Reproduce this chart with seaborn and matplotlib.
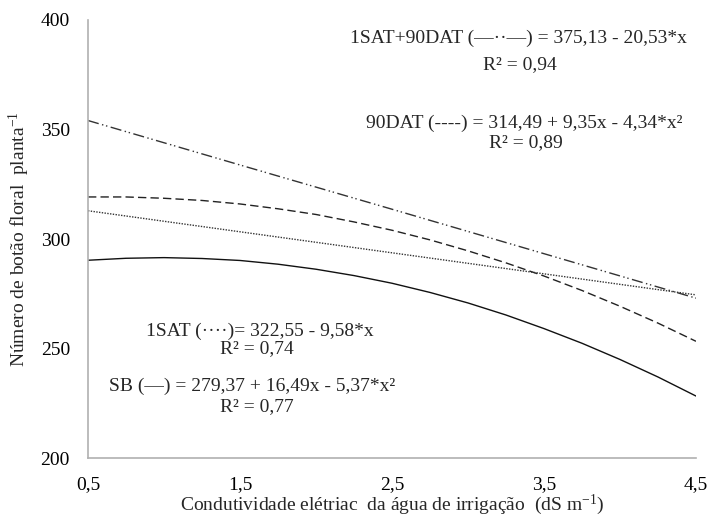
import matplotlib
matplotlib.use('Agg')
import matplotlib.pyplot as plt
import seaborn as sns
import pandas as pd

# curves
x_curve = [0.5, 0.75, 1.0, 1.25, 1.5, 1.75, 2.0, 2.25, 2.5, 2.75, 3.0, 3.25, 3.5, 3.75, 4.0, 4.25, 4.5]
sb = [290.3, 291.2, 291.5, 291.1, 290.2, 288.5, 286.2, 283.3, 279.8, 275.6, 270.8, 265.3, 259.1, 252.4, 245.0, 237.0, 228.3]
dat90 = [319.2, 319.2, 318.6, 317.6, 316.0, 313.8, 311.2, 307.8, 304.0, 299.6, 294.6, 289.1, 283.1, 276.5, 269.3, 261.6, 253.3]
x_lin = [0.5, 1.5, 2.5, 3.5, 4.5]
sat1 = [312.9, 303.3, 293.7, 284.1, 274.5]
sat1_dat90 = [354.1, 333.8, 313.6, 293.3, 273.0]

x_ticks = [0.5, 1.5, 2.5, 3.5, 4.5]
x_tick_labels = ["0,5", "1,5", "2,5", "3,5", "4,5"]
y_ticks = [200, 250, 300, 350, 400]

sns.set_style("white")
plt.rcParams['font.family'] = ['Liberation Serif', 'DejaVu Serif']
plt.rcParams['mathtext.default'] = 'regular'

fig = plt.figure(figsize=(7.08, 5.18), dpi=100)
ax = fig.add_axes([0.1243, 0.1158, 0.8587, 0.8456])

df_curve = pd.DataFrame({"x": x_curve, "sb": sb, "dat90": dat90})
df_lin = pd.DataFrame({"x": x_lin, "sat1": sat1, "sat1_dat90": sat1_dat90})

sns.lineplot(data=df_curve, x="x", y="sb", ax=ax, color="#111111", lw=1.0)
sns.lineplot(data=df_curve, x="x", y="dat90", ax=ax, color="#222222", lw=1.0)
ax.lines[-1].set_dashes((6, 3))
sns.lineplot(data=df_lin, x="x", y="sat1", ax=ax, color="#333333", lw=1.0)
ax.lines[-1].set_dashes((1, 1))
sns.lineplot(data=df_lin, x="x", y="sat1_dat90", ax=ax, color="#333333", lw=1.0)
ax.lines[-1].set_dashes((8, 2.5, 1, 2, 1, 2.5))

ax.set_xlim(0.5, 4.5)
ax.set_ylim(200, 400)
ax.set_xticks(x_ticks)
ax.set_xticklabels(x_tick_labels)
ax.set_yticks(y_ticks)
ax.tick_params(axis='both', labelsize=14, colors='#aaaaaa', labelcolor='black',
               direction='out', width=1)
ax.tick_params(axis='y', length=5, pad=8)
ax.tick_params(axis='x', length=4, pad=9)

for s in ['top', 'right']:
    ax.spines[s].set_visible(False)
for s in ['left', 'bottom']:
    ax.spines[s].set_color('#b0b0b0')
    ax.spines[s].set_linewidth(1.2)

ax.set_xlabel("Condutividade elétriac  da água de irrigação  (dS m$^{-1}$)", fontsize=14, labelpad=0)
ax.set_ylabel("Número de botão floral  planta$^{-1}$", fontsize=14, labelpad=6)

# equations
fs = 14
ax.text(3.33, 391.8, "1SAT+90DAT (—··—) = 375,13 - 20,53*x", fontsize=fs, ha='center', va='center')
ax.text(3.34, 379.5, "R² = 0,94", fontsize=fs, ha='center', va='center')
ax.text(3.37, 353.0, "90DAT (----) = 314,49 + 9,35x - 4,34*x²", fontsize=fs, ha='center', va='center')
ax.text(3.38, 344.0, "R² = 0,89", fontsize=fs, ha='center', va='center')
ax.text(1.63, 257.9, "1SAT (····)= 322,55 - 9,58*x", fontsize=fs, ha='center', va='center')
ax.text(1.61, 250.1, "R² = 0,74", fontsize=fs, ha='center', va='center')
ax.text(1.58, 232.5, "SB (—) = 279,37 + 16,49x - 5,37*x²", fontsize=fs, ha='center', va='center')
ax.text(1.61, 223.5, "R² = 0,77", fontsize=fs, ha='center', va='center')

fig.savefig("out.png", dpi=100)
